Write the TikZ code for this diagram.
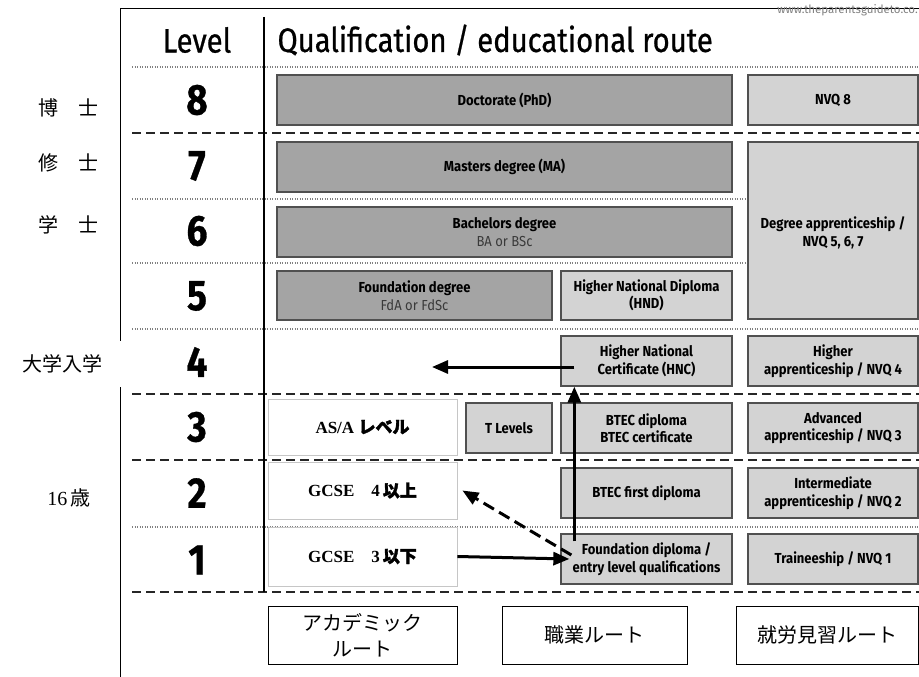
\documentclass[tikz,border=0pt]{standalone}
\usepackage{fontspec}
\setmainfont{Liberation Serif}
\setsansfont{Fira Sans}
\newfontfamily\cjk{Noto Sans CJK JP}
\newfontfamily\cjkb[FakeBold=2]{Noto Sans CJK JP}
\newfontfamily\condsf[FakeStretch=0.9]{Fira Sans}
\newfontfamily\headsf[FakeStretch=0.86, FakeBold=0.7]{Fira Sans}
\usetikzlibrary{arrows.meta}

\definecolor{darkq}{HTML}{A4A4A4}
\definecolor{lightq}{HTML}{D3D3D3}
\definecolor{edgeq}{HTML}{505050}
\definecolor{subtxt}{HTML}{3A3A3A}

% cell: style, name, x1, y1, x2, y2, text
\newcommand{\qcell}[7]{\node[#1, minimum width={(#5-#3)*1pt}, minimum height={(#6-#4)*1pt}] (#2) at ({(#3+#5)/2},{(#4+#6)/2}) {#7};}
\newcommand{\rowline}[2]{\draw[#1] (132,#2) -- (919,#2);}
\newcommand{\lvlnode}[3]{\node[lvl] (#1) at (197,#2) {#3};}

\tikzset{
  darkcell/.style={draw=edgeq, line width=1.3pt, fill=darkq, inner sep=0pt, align=center,
    font=\condsf\bfseries\fontsize{14.5}{17.5}\selectfont},
  lightcell/.style={darkcell, fill=lightq},
  whitecell/.style={draw=gray!45, line width=0.8pt, fill=white, inner sep=0pt,
    font=\bfseries\fontsize{17}{19}\selectfont},
  routecell/.style={draw=black, line width=0.8pt, fill=white, inner sep=0pt, align=center,
    font=\cjk\fontsize{20}{26}\selectfont},
  sidelbl/.style={font=\cjk\fontsize{20}{22}\selectfont},
  lvl/.style={font=\headsf\bfseries\fontsize{43}{43}\selectfont},
  thinrule/.style={gray, line width=1.2pt, dash pattern=on 1.2pt off 1.3pt},
  thickrule/.style={black!85, line width=2.5pt, dash pattern=on 9pt off 5pt},
  route/.style={line width=3pt, -{Triangle[length=16pt,width=13pt]}},
}

\begin{document}
\begin{tikzpicture}[x=1pt,y=-1pt]
  \useasboundingbox (0,0) rectangle (919,677);
  % frame
  \draw[line width=1pt] (120,677) -- (120,9) -- (919,9);
  % header
  \node[font=\headsf\fontsize{34}{34}\selectfont] (lvlhead) at (197,40) {Level};
  \node[anchor=west, font=\headsf\fontsize{34}{34}\selectfont] (title) at (274,40) {Qualification / educational route};
  \node[anchor=north east, text=gray, font=\sffamily\fontsize{11.5}{12}\selectfont, inner sep=1pt] (url) at (919,3) {www.theparentsguideto.co.};
  % row lines
  \rowline{thinrule}{67}
  \rowline{thickrule}{133}
  \rowline{thinrule}{199}
  \rowline{thinrule}{263}
  \rowline{thinrule}{329}
  \rowline{thickrule}{394}
  \rowline{thickrule}{460}
  \rowline{thinrule}{527}
  \rowline{thickrule}{592}
  \draw[line width=1.5pt] (264,17) -- (264,592);
  % levels
  \lvlnode{l8}{100}{8}
  \lvlnode{l7}{166}{7}
  \lvlnode{l6}{231}{6}
  \lvlnode{l5}{296}{5}
  \lvlnode{l4}{362}{4}
  \lvlnode{l3}{427}{3}
  \lvlnode{l2}{493}{2}
  \lvlnode{l1}{560}{1}
  % side labels
  \node[sidelbl] (phdj) at (68,108) {博　士};
  \node[sidelbl] (maj) at (68,163) {修　士};
  \node[sidelbl] (baj) at (68,225) {学　士};
  \node[sidelbl, fill=white, minimum width=118pt, minimum height=46pt] (unij) at (63,364) {大学入学};
  \node[sidelbl] (agej) at (69,498) {{\rmfamily 16}\,歳};
  % grey cells
  \qcell{darkcell}{phd}{277}{75}{732}{125}{Doctorate (PhD)}
  \qcell{lightcell}{nvq8}{748}{75}{918}{125}{NVQ 8}
  \qcell{darkcell}{ma}{277}{142}{732}{192}{Masters degree (MA)}
  \qcell{lightcell}{dapp}{748}{142}{918}{319}{}
  \node[darkcell, draw=none, fill=none] (dapptxt) at (833,233) {Degree apprenticeship /\\NVQ 5, 6, 7};
  \qcell{darkcell}{ba}{277}{207}{732}{257}{Bachelors degree\\{\mdseries\color{subtxt}BA or BSc}}
  \qcell{darkcell}{fd}{277}{271}{552}{320}{Foundation degree\\{\mdseries\color{subtxt}FdA or FdSc}}
  \qcell{lightcell}{hnd}{561}{271}{732}{320}{Higher National Diploma\\(HND)}
  \qcell{lightcell}{hnc}{561}{336}{732}{386}{Higher National\\Certificate (HNC)}
  \qcell{lightcell}{happ}{748}{336}{918}{386}{Higher\\apprenticeship / NVQ 4}
  \qcell{lightcell}{tlev}{466}{403}{552}{453}{T Levels}
  \qcell{lightcell}{btec}{561}{403}{732}{453}{BTEC diploma\\BTEC certificate}
  \qcell{lightcell}{aapp}{748}{403}{918}{453}{Advanced\\apprenticeship / NVQ 3}
  \qcell{lightcell}{btecf}{561}{468}{732}{518}{BTEC first diploma}
  \qcell{lightcell}{iapp}{748}{468}{918}{518}{Intermediate\\apprenticeship / NVQ 2}
  \qcell{lightcell}{fdip}{561}{534}{732}{584}{Foundation diploma /\\entry level qualifications}
  \qcell{lightcell}{trn}{748}{534}{918}{584}{Traineeship / NVQ 1}
  % white cells
  \qcell{whitecell}{alev}{268}{399}{457}{455}{AS/A {\cjkb レベル}}
  \qcell{whitecell}{gcseH}{268}{462}{457}{519}{GCSE\quad 4\,{\cjkb 以上}}
  \qcell{whitecell}{gcseL}{268}{527}{457}{586}{GCSE\quad 3\,{\cjkb 以下}}
  % routes
  \qcell{routecell}{acad}{268}{606}{457}{664}{アカデミック\\ルート}
  \qcell{routecell}{voc}{502}{606}{687}{664}{職業ルート}
  \qcell{routecell}{appr}{736}{606}{918}{664}{就労見習ルート}
  % arrows
  \coordinate (uni) at (432,367);
  \draw[route] ([xshift=14pt,yshift=-6pt]hnc.west) -- (uni);
  \draw[route] ([xshift=14pt,yshift=-8pt]fdip.north west) -- ([xshift=14pt]hnc.south west);
  \draw[route] (gcseL.east) -- ([xshift=9pt]fdip.west);
  \draw[route, dash pattern=on 12pt off 6pt] ([xshift=11pt,yshift=4pt]fdip.west) -- ([xshift=5pt]gcseH.east);
\end{tikzpicture}
\end{document}
